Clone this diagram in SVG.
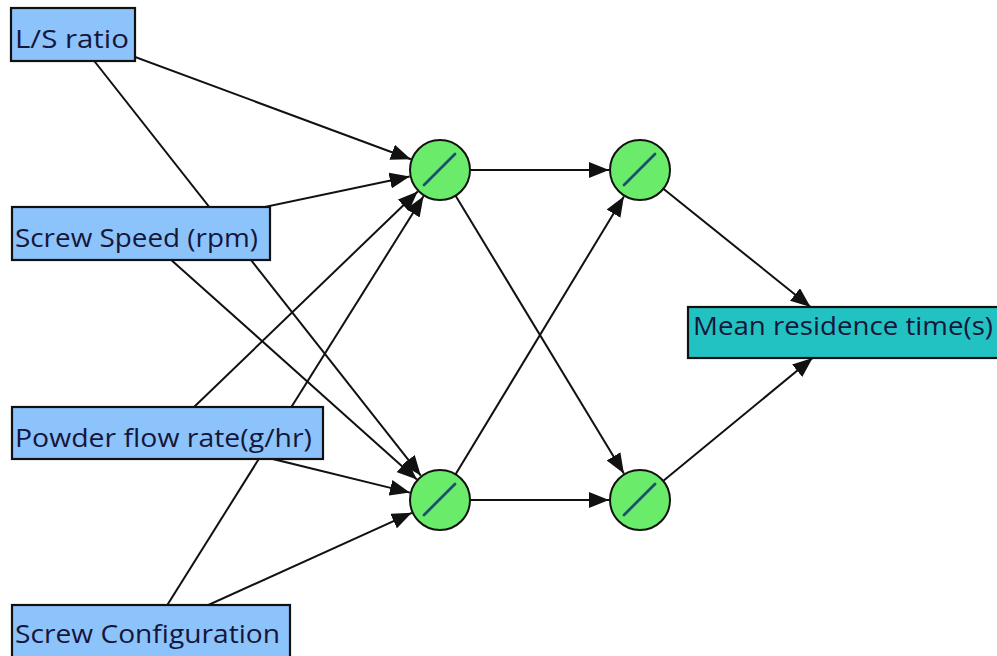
<svg xmlns="http://www.w3.org/2000/svg" width="997" height="656" viewBox="0 0 997 656">
<style>
  .bg{fill:#ffffff}
  .in{fill:#8dc3fb;stroke:#111111;stroke-width:2.2}
  .out{fill:#22c2c2;stroke:#111111;stroke-width:2.2}
  .lbl{font-family:"Open Sans","Noto Sans","Liberation Sans",sans-serif;font-size:26px;fill:#16163a}
  .neuron{fill:#6aec6a;stroke:#111111;stroke-width:2}
  .slash{stroke:#1d4f72;stroke-width:2.8;stroke-linecap:round}
  .edge{stroke:#111111;stroke-width:2;fill:none;marker-end:url(#arr)}
</style>
<defs>
  <marker id="arr" markerUnits="userSpaceOnUse" markerWidth="22" markerHeight="16" refX="20" refY="8" orient="auto">
    <path d="M0,0 L20,8 L0,16 z" fill="#111111"/>
  </marker>
</defs>
<rect class="bg" x="0" y="0" width="997" height="656"/>
<g id="connectors">
  <line class="edge" x1="73" y1="34" x2="410.9" y2="159.2"/>
  <line class="edge" x1="73" y1="34" x2="420.8" y2="475.6"/>
  <line class="edge" x1="141" y1="233" x2="409.7" y2="176.4"/>
  <line class="edge" x1="141" y1="233" x2="416.9" y2="479.4"/>
  <line class="edge" x1="167" y1="433" x2="417.7" y2="191.5"/>
  <line class="edge" x1="167" y1="433" x2="409.9" y2="492.6"/>
  <line class="edge" x1="151" y1="631" x2="423.5" y2="196.3"/>
  <line class="edge" x1="151" y1="631" x2="411.8" y2="512.8"/>
  <line class="edge" x1="440" y1="170" x2="609" y2="170"/>
  <line class="edge" x1="440" y1="170" x2="623.9" y2="473.5"/>
  <line class="edge" x1="440" y1="500" x2="623.9" y2="196.5"/>
  <line class="edge" x1="440" y1="500" x2="609" y2="500"/>
  <line class="edge" x1="640" y1="170" x2="810.6" y2="307"/>
  <line class="edge" x1="640" y1="500" x2="812.6" y2="358"/>
</g>
<g id="in_ls">
  <rect class="in" x="11" y="8" width="124" height="53"/>
  <text class="lbl" x="15" y="48" textLength="114" lengthAdjust="spacingAndGlyphs">L/S ratio</text>
</g>
<g id="in_speed">
  <rect class="in" x="12" y="207" width="258" height="53"/>
  <text class="lbl" x="15" y="247" textLength="243" lengthAdjust="spacingAndGlyphs">Screw Speed (rpm)</text>
</g>
<g id="in_powder">
  <rect class="in" x="12" y="407" width="311" height="52"/>
  <text class="lbl" x="15" y="447" textLength="297" lengthAdjust="spacingAndGlyphs">Powder flow rate(g/hr)</text>
</g>
<g id="in_config">
  <rect class="in" x="12" y="605" width="278" height="60"/>
  <text class="lbl" x="15" y="643" textLength="265" lengthAdjust="spacingAndGlyphs">Screw Configuration</text>
</g>
<g id="h1_top">
  <circle class="neuron" cx="440" cy="170" r="30"/>
  <line class="slash" x1="424" y1="185" x2="455" y2="154"/>
</g>
<g id="h1_bottom">
  <circle class="neuron" cx="440" cy="500" r="30"/>
  <line class="slash" x1="424" y1="515" x2="455" y2="484"/>
</g>
<g id="h2_top">
  <circle class="neuron" cx="640" cy="170" r="30"/>
  <line class="slash" x1="624" y1="185" x2="655" y2="154"/>
</g>
<g id="h2_bottom">
  <circle class="neuron" cx="640" cy="500" r="30"/>
  <line class="slash" x1="624" y1="515" x2="655" y2="484"/>
</g>
<g id="out_mrt">
  <rect class="out" x="688" y="307" width="320" height="51"/>
  <text class="lbl" x="693" y="335" textLength="300" lengthAdjust="spacingAndGlyphs">Mean residence time(s)</text>
</g>
</svg>
